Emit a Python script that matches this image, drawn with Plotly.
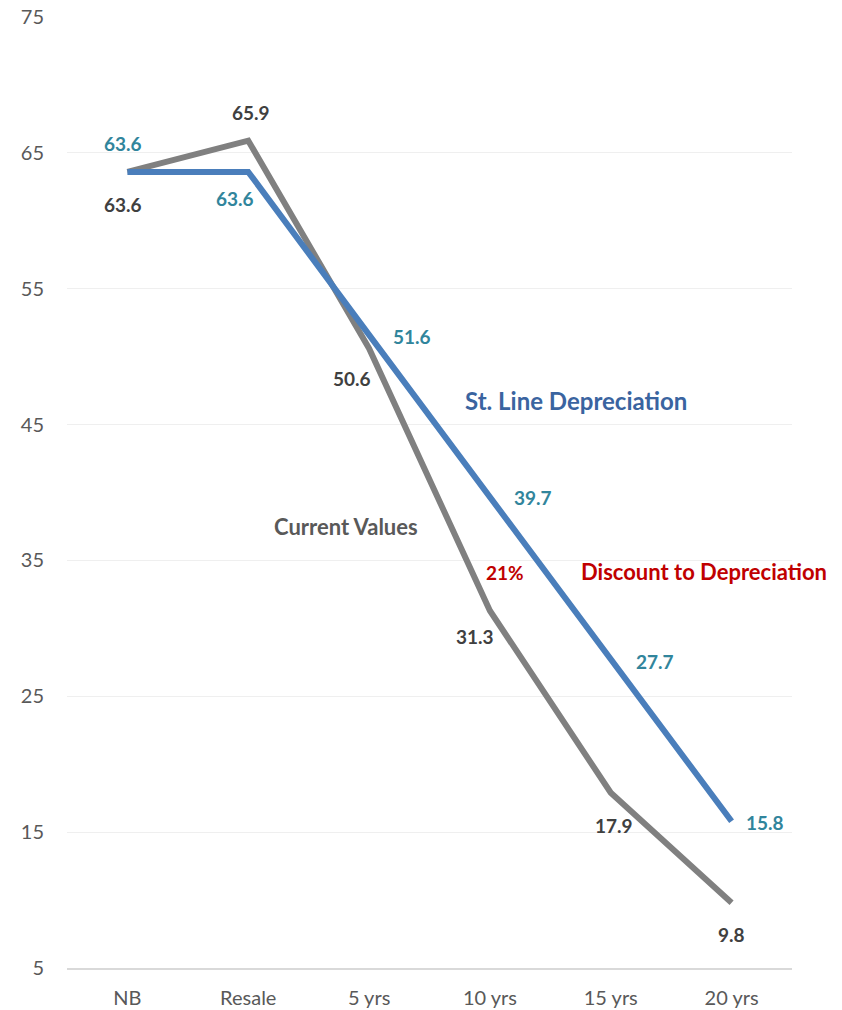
import plotly.graph_objects as go

# Chart data
categories = ["NB", "Resale", "5 yrs", "10 yrs", "15 yrs", "20 yrs"]
current_values = [63.6, 65.9, 50.6, 31.3, 17.9, 9.8]
straight_line = [63.6, 63.6, 51.6, 39.7, 27.7, 15.8]
y_ticks = [5, 15, 25, 35, 45, 55, 65, 75]

# Label offsets (pixels) relative to each point
gray_offsets = [(-4, -33), (3, 28), (-17, -30), (-15, -26), (3, -33), (0, -32)]
blue_offsets = [(-4, 28), (-13, -27), (43, -2), (43, -1), (44, -2), (33, -1)]

FONT = "Lato, 'Open Sans', sans-serif"
GRAY = "#808080"
BLUE = "#4A7EBB"
TEAL = "#31859C"
DARK = "#404040"
RED = "#C00000"

fig = go.Figure()
fig.add_trace(go.Scatter(
    x=categories, y=current_values, mode="lines",
    line=dict(color=GRAY, width=6), name="Current Values",
))
fig.add_trace(go.Scatter(
    x=categories, y=straight_line, mode="lines",
    line=dict(color=BLUE, width=6), name="St. Line Depreciation",
))

annotations = []
for i, (c, v) in enumerate(zip(categories, current_values)):
    dx, dy = gray_offsets[i]
    annotations.append(dict(
        x=c, y=v, text=f"<b>{v:.1f}</b>", showarrow=False,
        xshift=dx, yshift=dy, font=dict(family=FONT, size=19, color=DARK),
    ))
for i, (c, v) in enumerate(zip(categories, straight_line)):
    dx, dy = blue_offsets[i]
    annotations.append(dict(
        x=c, y=v, text=f"<b>{v:.1f}</b>", showarrow=False,
        xshift=dx, yshift=dy, font=dict(family=FONT, size=19, color=TEAL),
    ))

# Series captions
annotations += [
    dict(x=3.71, y=46.8, xref="x", yref="y", text="<b>St. Line Depreciation</b>",
         showarrow=False, font=dict(family=FONT, size=24, color="#3A64A0")),
    dict(x=1.81, y=37.5, xref="x", yref="y", text="<b>Current Values</b>",
         showarrow=False, font=dict(family=FONT, size=22, color="#595959")),
    dict(x=4.77, y=34.2, xref="x", yref="y", text="<b>Discount to Depreciation</b>",
         showarrow=False, font=dict(family=FONT, size=22, color=RED)),
    dict(x=3.126, y=34.1, xref="x", yref="y", text="<b>21%</b>",
         showarrow=False, font=dict(family=FONT, size=19, color=RED)),
]

fig.update_layout(
    width=842, height=1010,
    margin=dict(l=67, r=50, t=17, b=42),
    paper_bgcolor="white", plot_bgcolor="white",
    showlegend=False,
    font=dict(family=FONT, size=20, color="#595959"),
    annotations=annotations,
    xaxis=dict(
        type="category", range=[-0.5, 5.5], showgrid=False,
        showline=True, linecolor="#D9D9D9", linewidth=2,
        ticks="", ticklabelstandoff=11, automargin=False,
        tickfont=dict(family=FONT, size=20, color="#595959"),
    ),
    yaxis=dict(
        range=[5, 75], tickvals=y_ticks, showgrid=True,
        gridcolor="#EFEFEF", gridwidth=1, zeroline=False,
        ticks="", ticklabelstandoff=22, automargin=False,
        tickfont=dict(family=FONT, size=20, color="#595959"),
    ),
)

fig.write_html("out.html")
